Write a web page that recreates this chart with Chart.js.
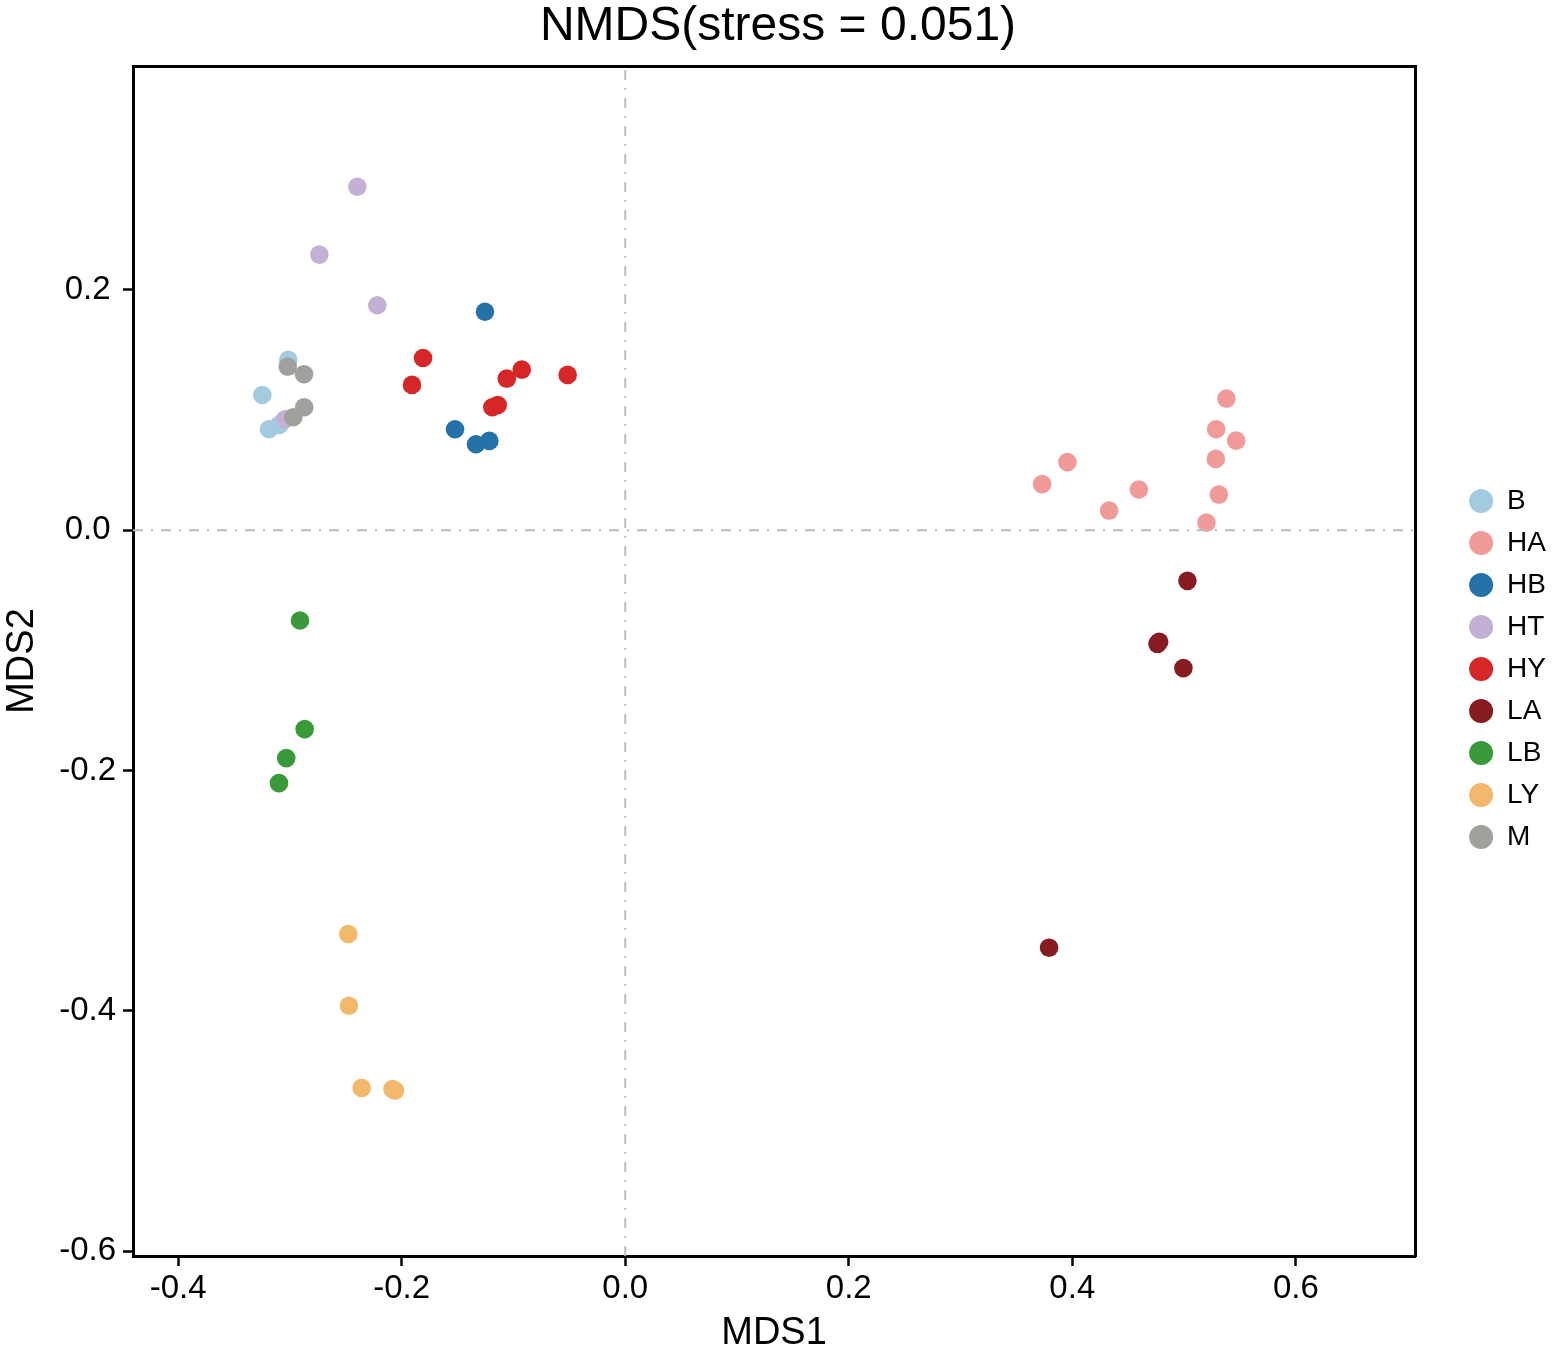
<!DOCTYPE html>
<html>
<head>
<meta charset="utf-8">
<title>NMDS(stress = 0.051)</title>
<script src="https://cdn.jsdelivr.net/npm/chart.js@4.4.1/dist/chart.umd.min.js"></script>
<style>
  html, body { margin: 0; padding: 0; background: #fff; }
  #wrap { width: 1559px; height: 1356px; }
</style>
</head>
<body>
<div id="wrap"><canvas id="nmds" width="1559" height="1356"></canvas></div>
<script>
// 1 DATA (MDS1, MDS2 per sample)
const groups = ['B', 'HA', 'HB', 'HT', 'HY', 'LA', 'LB', 'LY', 'M'];

const ptsB  = [[-0.3015, 0.1418], [-0.3247, 0.1126], [-0.3187, 0.0841], [-0.3095, 0.0877]];
const ptsHA = [[0.5379, 0.1096], [0.5287, 0.0841], [0.5466, 0.0746], [0.5284, 0.0594], [0.5311, 0.0297],
               [0.5200, 0.0064], [0.3956, 0.0567], [0.3730, 0.0384], [0.4329, 0.0164], [0.4595, 0.0339]];
const ptsHB = [[-0.1255, 0.1819], [-0.1523, 0.0841], [-0.1335, 0.0716], [-0.1216, 0.0744]];
const ptsHT = [[-0.2397, 0.2859], [-0.2737, 0.2294], [-0.2218, 0.1873], [-0.3044, 0.0924]];
const ptsHY = [[-0.1809, 0.1434], [-0.1908, 0.1210], [-0.0926, 0.1337], [-0.1060, 0.1262],
               [-0.0515, 0.1293], [-0.1189, 0.1024], [-0.1141, 0.1043]];
const ptsLA = [[0.5030, -0.0421], [0.4762, -0.0945], [0.4777, -0.0928], [0.4994, -0.1147], [0.3792, -0.3474]];
const ptsLB = [[-0.2910, -0.0751], [-0.2868, -0.1655], [-0.3033, -0.1896], [-0.3098, -0.2104]];
const ptsLY = [[-0.2478, -0.3360], [-0.2472, -0.3957], [-0.2358, -0.4641], [-0.2082, -0.4651], [-0.2060, -0.4664]];
const ptsM  = [[-0.3020, 0.1362], [-0.2874, 0.1299], [-0.2872, 0.1024], [-0.2970, 0.0941]];

const groupPoints = [ptsB, ptsHA, ptsHB, ptsHT, ptsHY, ptsLA, ptsLB, ptsLY, ptsM];

// axis ticks and limits
const xTicks = [-0.4, -0.2, 0.0, 0.2, 0.4, 0.6];
const yTicks = [-0.6, -0.4, -0.2, 0.0, 0.2];
const xRange = [-0.4404, 0.7067];
const yRange = [-0.604, 0.3864];

// 2 STYLE
const palette = ['#a3cbe0', '#f09a9a', '#2572a9', '#c5b0d5', '#d62728',
                 '#861b21', '#3a9a3a', '#f2b86c', '#a0a09c'];
const FONT = "'Liberation Sans', Arial, Helvetica, sans-serif";
const refLine = { borderColor: '#bdbdbd', borderWidth: 2, borderDash: [10, 8, 2, 8] };

// 3 DATASETS
const datasets = groups.map((g, i) => ({
    label: g,
    data: groupPoints[i].map(p => ({ x: p[0], y: p[1] })),
    backgroundColor: palette[i],
    borderWidth: 0,
    pointRadius: 9.3,
    pointHoverRadius: 9.3,
    order: groups.length - i   // later groups drawn on top, like the original
}));

// dash-dot reference lines at MDS1 = 0 and MDS2 = 0
datasets.push({
    type: 'line', label: 'h0', isRef: true, order: -1,
    data: [{ x: xRange[0], y: 0 }, { x: xRange[1], y: 0 }],
    pointRadius: 0, fill: false, ...refLine
});
datasets.push({
    type: 'line', label: 'v0', isRef: true, order: -1,
    data: [{ x: 0, y: yRange[0] }, { x: 0, y: yRange[1] }],
    pointRadius: 0, fill: false, ...refLine
});

// 4 SCALES
const tickFmt = v => Number(v).toFixed(1);
const mainAxis = (ticks, range, title) => ({
    min: range[0],
    max: range[1],
    afterBuildTicks: s => { s.ticks = ticks.map(v => ({ value: v })); },
    ticks: {
        callback: tickFmt,
        color: '#000',
        padding: 5,
        font: { family: FONT, size: 33 },
        maxRotation: 0
    },
    grid: {
        display: true,
        drawOnChartArea: false,
        drawTicks: true,
        tickLength: 10,
        tickWidth: 2.5,
        tickColor: '#000',
        color: '#000'
    },
    border: { display: true, color: '#000', width: 3 },
    title: {
        display: true,
        text: title,
        color: '#000',
        padding: { top: 0, bottom: 0 },
        font: { family: FONT, size: 38, weight: 'normal' }
    }
});

const frameAxis = (range, pos) => ({
    position: pos,
    min: range[0],
    max: range[1],
    ticks: { display: false },
    grid: { display: false },
    border: { display: true, color: '#000', width: 3 }
});

const scales = {
    x: Object.assign(mainAxis(xTicks, xRange, 'MDS1'), {
        type: 'linear', position: 'bottom',
        afterFit: s => { s.height = 100; }
    }),
    y: Object.assign(mainAxis(yTicks, yRange, 'MDS2'), {
        type: 'linear', position: 'left',
        afterFit: s => { s.width = 133; }
    }),
    xTop: Object.assign(frameAxis(xRange, 'top'), {
        type: 'linear', axis: 'x',
        afterFit: s => { s.height = 13.2; }
    }),
    yRight: Object.assign(frameAxis(yRange, 'right'), {
        type: 'linear', axis: 'y',
        afterFit: s => { s.width = 40; }
    })
};
scales.x.ticks.padding = 3;
scales.y.ticks.padding = 7;
scales.y.ticks.crossAlign = 'center';

// 5 CHART
const ctx = document.querySelector('#nmds').getContext('2d');
const myChart = new Chart(ctx, {
    type: 'scatter',
    data: { datasets: datasets },
    options: {
        responsive: false,
        animation: false,
        layout: { padding: { left: 0, right: 3, top: 0, bottom: 0 } },
        scales: scales,
        plugins: {
            tooltip: { enabled: false },
            title: {
                display: true,
                text: 'NMDS(stress = 0.051)',
                color: '#000',
                padding: 0,
                font: { family: FONT, size: 48, weight: 'normal', lineHeight: 1.1 }
            },
            legend: {
                position: 'right',
                align: 'center',
                fullSize: false,
                title: { display: true, text: '', padding: { top: 0, bottom: 4 }, font: { size: 10 } },
                labels: {
                    usePointStyle: true,
                    pointStyle: 'circle',
                    pointStyleWidth: 24,
                    boxHeight: 17,
                    padding: 14,
                    color: '#000',
                    font: { family: FONT, size: 28 },
                    filter: (item, data) => !data.datasets[item.datasetIndex].isRef,
                    sort: (a, b) => a.datasetIndex - b.datasetIndex
                }
            }
        }
    }
});
</script>
</body>
</html>
